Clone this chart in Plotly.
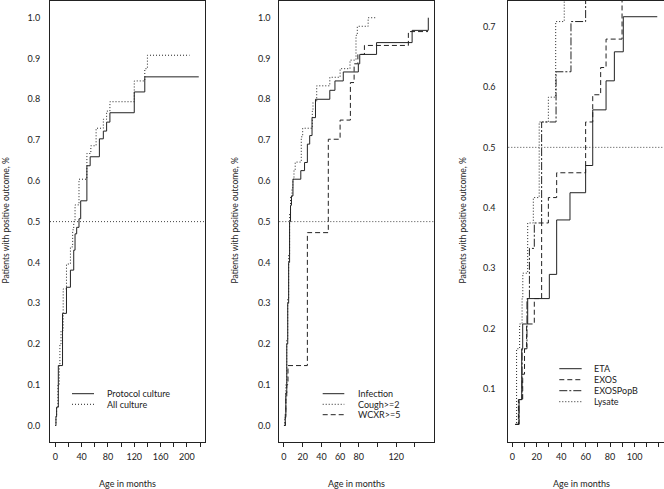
import plotly.graph_objects as go

# ---------------- data ----------------
# Panel 1
p1_protocol_t = [0, 1, 2, 4.6, 11, 17, 23, 28, 30, 32.5, 36, 38.6, 48, 53, 67, 73, 78, 83, 120, 136, 218]
p1_protocol_v = [0, 0.022, 0.045, 0.147, 0.275, 0.339, 0.381, 0.43, 0.47, 0.486, 0.507, 0.551, 0.637, 0.659, 0.703, 0.722, 0.744, 0.767, 0.818, 0.855, 0.855]
p1_all_t = [0, 1, 2, 4, 6, 7, 8.7, 12, 17, 23, 26.4, 28, 30, 36, 48, 54, 62, 73, 78, 83, 120, 136, 140, 204]
p1_all_v = [0, 0.022, 0.045, 0.1, 0.15, 0.2, 0.233, 0.335, 0.396, 0.438, 0.48, 0.5, 0.541, 0.604, 0.667, 0.686, 0.729, 0.751, 0.771, 0.794, 0.845, 0.875, 0.908, 0.908]

# Panel 2
p2_infection_t = [0, 1.4, 2, 3, 4, 5, 6, 7, 8, 9.6, 18, 22, 25, 27.5, 30, 33.7, 49, 54.5, 63.4, 79.5, 81, 99, 137, 154.3]
p2_infection_v = [0, 0.02, 0.08, 0.2, 0.3, 0.4, 0.5, 0.54, 0.563, 0.604, 0.625, 0.645, 0.69, 0.711, 0.755, 0.8, 0.822, 0.845, 0.867, 0.887, 0.91, 0.939, 0.969, 1.0]
p2_cough_t = [0, 0.8, 2, 3, 4, 5, 6, 7, 8.6, 9.5, 10.7, 12, 18.5, 20, 30.3, 31, 35, 49, 60, 70.6, 77, 78.4, 90, 99]
p2_cough_v = [0, 0.02, 0.1, 0.21, 0.31, 0.42, 0.52, 0.56, 0.583, 0.604, 0.625, 0.646, 0.708, 0.729, 0.771, 0.792, 0.833, 0.854, 0.875, 0.896, 0.957, 0.979, 1.0, 1.0]
p2_wcxr_t = [0, 1.4, 2, 3, 4.3, 25, 47.4, 60, 71, 75, 79, 86, 133, 154]
p2_wcxr_v = [0, 0.03, 0.07, 0.1, 0.147, 0.473, 0.702, 0.749, 0.841, 0.887, 0.91, 0.932, 0.966, 0.966]

# Panel 3
p3_eta_t = [2.5, 5.5, 7.7, 8.5, 12.6, 30.3, 36.3, 47.2, 60, 65.8, 76.7, 83.5, 90.8, 118.6]
p3_eta_v = [0.042, 0.083, 0.167, 0.208, 0.25, 0.29, 0.38, 0.425, 0.47, 0.562, 0.61, 0.658, 0.716, 0.716]
p3_exos_t = [3, 5, 8.5, 10, 11.7, 18, 24, 29.5, 36.3, 60, 65.8, 72.3, 76.7, 89.8, 110]
p3_exos_v = [0.042, 0.083, 0.125, 0.167, 0.208, 0.25, 0.375, 0.417, 0.458, 0.542, 0.587, 0.632, 0.679, 0.76, 0.76]
p3_popb_t = [3, 5.5, 8, 12, 14, 18, 24, 35.8, 48, 60, 70]
p3_popb_v = [0.042, 0.083, 0.167, 0.25, 0.333, 0.375, 0.542, 0.625, 0.708, 0.79, 0.79]
p3_lysate_t = [2.2, 3.5, 6, 8, 8.6, 12.6, 17.2, 22, 29.5, 35.5, 42.5, 50]
p3_lysate_v = [0.042, 0.167, 0.208, 0.25, 0.292, 0.375, 0.417, 0.542, 0.583, 0.708, 0.79, 0.79]

p1_ticks = [0, 20, 40, 60, 80, 100, 120, 140, 160, 180, 200, 220]
p1_ticktext = ["0", "", "40", "", "80", "", "120", "", "160", "", "200", ""]
p2_ticks = [0, 20, 40, 60, 80, 100, 120, 140]
p2_ticktext = ["0", "20", "40", "60", "80", "", "120", ""]
p3_ticks = [0, 10, 20, 30, 40, 50, 60, 70, 80, 90, 100, 110, 120]
p3_ticktext = ["0", "", "20", "", "40", "", "60", "", "80", "", "100", "", "120"]
y12_ticks = [0.0, 0.1, 0.2, 0.3, 0.4, 0.5, 0.6, 0.7, 0.8, 0.9, 1.0]
y3_ticks = [0.1, 0.2, 0.3, 0.4, 0.5, 0.6, 0.7]

ytitle = "Patients with positive outcome, %"
xtitle = "Age in months"

# ---------------- styling ----------------
W, H = 664, 489
FONT = "Lato"
LC = "#222222"
DOT = "1px,2px"
DASH = "5px,3px"
DASHDOT = "8px,2px,2px,2px"

def px_x(p):
    return p / W

def px_y(p):
    return (H - p) / H

fig = go.Figure()

def add(t, v, xa, ya, dash, name):
    fig.add_trace(go.Scatter(x=t, y=v, xaxis=xa, yaxis=ya, mode="lines", line_shape="hv",
                             line=dict(color=LC, width=1, dash=dash), name=name,
                             showlegend=False, hoverinfo="skip"))

add(p1_protocol_t, p1_protocol_v, "x", "y", "solid", "Protocol culture")
add(p1_all_t, p1_all_v, "x", "y", DOT, "All culture")
add(p2_infection_t, p2_infection_v, "x2", "y2", "solid", "Infection")
add(p2_cough_t, p2_cough_v, "x2", "y2", DOT, "Cough>=2")
add(p2_wcxr_t, p2_wcxr_v, "x2", "y2", DASH, "WCXR>=5")
add(p3_eta_t, p3_eta_v, "x3", "y3", "solid", "ETA")
add(p3_exos_t, p3_exos_v, "x3", "y3", DASH, "EXOS")
add(p3_popb_t, p3_popb_v, "x3", "y3", DASHDOT, "EXOSPopB")
add(p3_lysate_t, p3_lysate_v, "x3", "y3", DOT, "Lysate")

ydom = [px_y(441.5), px_y(1.0)]
panels = [
    dict(dom=(50, 205), xr=[-8.05, 227.5], yr=[-0.0392, 1.041], xt=p1_ticks, xtt=p1_ticktext, yt=y12_ticks, ylen=7),
    dict(dom=(279.3, 434), xr=[-5.0, 160.4], yr=[-0.0392, 1.041], xt=p2_ticks, xtt=p2_ticktext, yt=y12_ticks, ylen=6),
    dict(dom=(508.3, 663.5), xr=[-3.27, 123.7], yr=[0.0137, 0.742], xt=p3_ticks, xtt=p3_ticktext, yt=y3_ticks, ylen=10),
]

axis_font = dict(family=FONT, size=9, color="#222")
layout = dict(width=W, height=H, margin=dict(l=0, r=0, t=0, b=0),
              paper_bgcolor="white", plot_bgcolor="white", showlegend=False,
              font=dict(family=FONT, size=9, color="#222"))
for i, p in enumerate(panels):
    sfx = "" if i == 0 else str(i + 1)
    layout["xaxis" + sfx] = dict(domain=[px_x(p["dom"][0]), px_x(p["dom"][1])], range=p["xr"],
                                 anchor="y" + sfx, showgrid=False, zeroline=False,
                                 showline=True, linecolor="#222", linewidth=1, mirror=True,
                                 ticks="outside", ticklen=4, tickcolor="#222", tickwidth=1,
                                 tickvals=p["xt"], ticktext=p["xtt"], tickfont=axis_font,
                                 ticklabelstandoff=3)
    layout["yaxis" + sfx] = dict(domain=ydom, range=p["yr"], anchor="x" + sfx,
                                 showgrid=False, zeroline=False,
                                 showline=True, linecolor="#222", linewidth=1, mirror=True,
                                 ticks="outside", ticklen=p["ylen"], tickcolor="rgba(0,0,0,0)",
                                 tickvals=p["yt"], tickformat=".1f", tickfont=axis_font)
fig.update_layout(**layout)

# horizontal 0.5 reference lines
for sfx in ["", "2", "3"]:
    fig.add_shape(type="line", xref=("x" if not sfx else "x" + sfx) + " domain", yref="y" + sfx,
                  x0=0, x1=1, y0=0.5, y1=0.5, line=dict(color="#444", width=1, dash=DOT))

# axis titles
for xc in [6, 235, 463]:
    fig.add_annotation(text=ytitle, xref="paper", yref="paper", x=px_x(xc), y=px_y(220.5),
                       textangle=-90, showarrow=False, font=dict(family=FONT, size=8.5, color="#222"),
                       xanchor="center", yanchor="middle")
for xc in [127.7, 356.7, 581.7]:
    fig.add_annotation(text=xtitle, xref="paper", yref="paper", x=px_x(xc), y=px_y(483),
                       showarrow=False, font=dict(family=FONT, size=9, color="#222"),
                       xanchor="center", yanchor="middle")

# legends
legends = [
    (72, 94, 105, [(393.7, "Protocol culture", "solid"), (404.3, "All culture", DOT)]),
    (322.7, 344.3, 355.7, [(393.7, "Infection", "solid"), (404.3, "Cough>=2", DOT), (414.7, "WCXR>=5", DASH)]),
    (559.3, 581.7, 592.3, [(368.7, "ETA", "solid"), (379.7, "EXOS", DASH), (390.7, "EXOSPopB", DASHDOT), (401.7, "Lysate", DOT)]),
]
for x0, x1, xt, items in legends:
    for yy, label, dash in items:
        fig.add_shape(type="line", xref="paper", yref="paper", x0=px_x(x0), x1=px_x(x1),
                      y0=px_y(yy), y1=px_y(yy), line=dict(color=LC, width=1, dash=dash))
        fig.add_annotation(text=label, xref="paper", yref="paper", x=px_x(xt), y=px_y(yy),
                           showarrow=False, xanchor="left", yanchor="middle",
                           font=dict(family=FONT, size=9, color="#222"))

fig.write_html("out.html", config={"displayModeBar": False},
               post_script="document.body.style.margin='0';document.body.style.overflow='hidden';")
